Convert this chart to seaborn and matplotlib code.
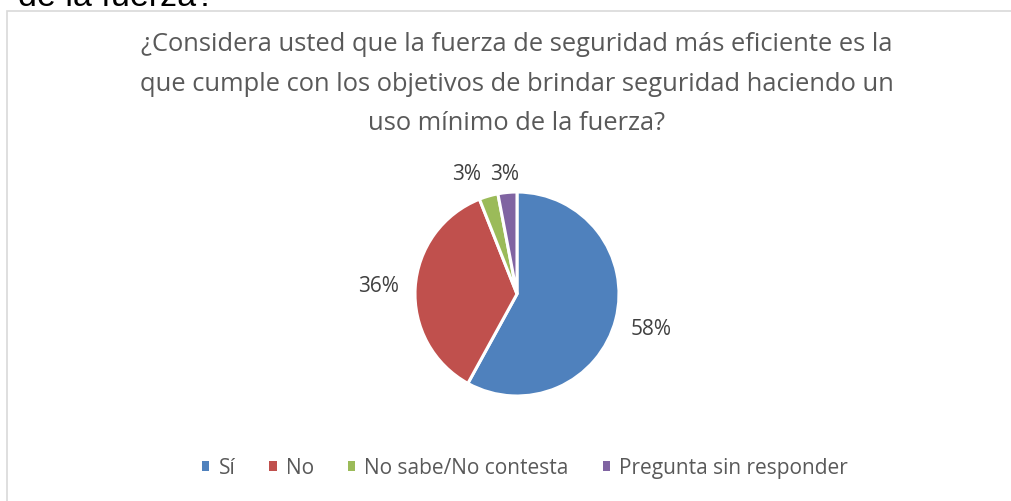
import matplotlib
matplotlib.use("Agg")
import matplotlib.pyplot as plt
import matplotlib.patches as mpatches
import numpy as np
import seaborn as sns

sns.set_theme(style="white")
plt.rcParams["font.family"] = ["Open Sans", "DejaVu Sans"]

# datos
categorias = ["Sí", "No", "No sabe/No contesta", "Pregunta sin responder"]
porcentajes = [58, 36, 3, 3]
colores = ["#4F81BD", "#C0504D", "#9BBB59", "#8064A2"]
titulo = ("¿Considera usted que la fuerza de seguridad más eficiente es la\n"
          "que cumple con los objetivos de brindar seguridad haciendo un\n"
          "uso mínimo de la fuerza?")

W, H = 1011, 502
fig = plt.figure(figsize=(W / 100, H / 100), dpi=100)
fig.patch.set_facecolor("white")

# texto cortado del documento original
fig.text(18 / W, 1 - 6 / H, "de la fuerza?", fontsize=24.5, color="black",
         family=["Liberation Sans", "DejaVu Sans"], ha="left", va="baseline")

# marco del gráfico
marco = mpatches.Rectangle((7 / W, -0.1), 1.2, 1 - 12 / H + 0.1,
                           transform=fig.transFigure, fill=False,
                           edgecolor="#D9D9D9", linewidth=1.2, clip_on=False)
fig.patches.append(marco)

fig.text(517 / W, 1 - 32.5 / H, titulo, ha="center", va="top", fontsize=18.4,
         color="#595959", linespacing=1.74)

cx, cy, r = 517, 295, 102
ax = fig.add_axes([(cx - r) / W, (H - cy - r) / H, 2 * r / W, 2 * r / H])
wedges, autotextos = ax.pie(
    porcentajes, colors=colores, startangle=90, counterclock=False,
    autopct="%1.0f%%", pctdistance=1.36, labels=None,
    wedgeprops=dict(edgecolor="white", linewidth=2.2),
    textprops=dict(color="#404040", fontsize=15))[0::2]
ax.set_xlim(-1, 1)
ax.set_ylim(-1, 1)
ax.set_aspect("auto")
ax.axis("off")

# etiquetas de los sectores pequeños, una junto a otra encima del pastel
for w, t, lado, dx in zip(wedges[2:], autotextos[2:], ["right", "left"], [-0.02, -0.15]):
    ang = np.deg2rad((w.theta1 + w.theta2) / 2)
    t.set_position((1.2 * np.cos(ang) + dx, 1.18))
    t.set_ha(lado)

manijas = [mpatches.Patch(facecolor=c, edgecolor="none") for c in colores]
fig.legend(manijas, categorias, loc="center", bbox_to_anchor=(525 / W, 1 - 469 / H),
           ncol=4, frameon=False, fontsize=15, handlelength=0.35,
           handleheight=0.35, handletextpad=0.45, columnspacing=1.62,
           labelcolor="#595959")

fig.savefig("out.png", dpi=100, facecolor="white")
